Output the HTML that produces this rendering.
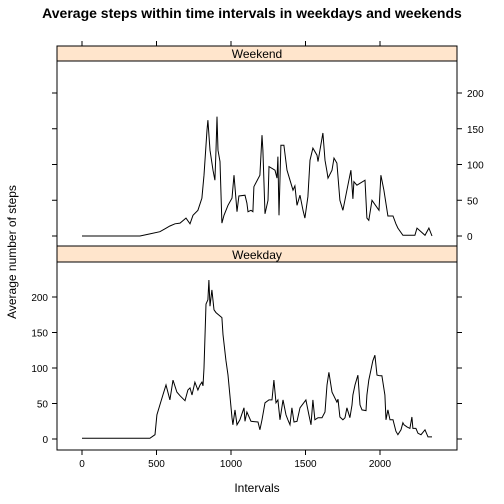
<!DOCTYPE html>
<html><head><meta charset="utf-8"><style>
body{margin:0;background:#fff;}
svg{display:block;font-family:"Liberation Sans",sans-serif;}
</style></head><body>
<svg id="c" width="504" height="504">
<text x="252" y="18" text-anchor="middle" font-size="14" font-weight="bold">Average steps within time intervals in weekdays and weekends</text>
<text transform="translate(16,252) rotate(-90)" text-anchor="middle" font-size="12">Average number of steps</text>
<text x="257" y="492" text-anchor="middle" font-size="12">Intervals</text>
</svg>
<script>
const xTicks=[0,500,1000,1500,2000];
const yTicks=[0,50,100,150,200];
const weekendX=[0,389,456,523,557,590,624,658,698,725,745,778,805,819,832,839,845,859,879,892,899,906,913,926,939,953,980,1007,1020,1040,1053,1094,1107,1114,1134,1147,1154,1194,1208,1214,1228,1248,1255,1295,1309,1315,1322,1335,1355,1376,1396,1416,1429,1443,1463,1483,1496,1516,1530,1550,1577,1584,1617,1631,1644,1651,1678,1691,1711,1731,1751,1778,1805,1818,1825,1845,1899,1912,1925,1946,1993,2006,2026,2053,2087,2107,2120,2154,2234,2248,2302,2328,2349];
const weekendY=[0,0,3,6,10,14,17,18,25,17,29,36,53,85,127,148,162,120,92,78,120,167,120,104,18,29,43,53,85,34,56,57,46,34,36,34,69,85,141,120,31,50,97,92,81,111,29,127,127,92,78,64,70,43,57,36,25,55,106,123,113,104,144,106,90,81,92,109,102,50,36,64,92,52,76,71,78,25,22,50,36,85,64,28,28,17,11,1,1,11,1,11,0];
const weekdayX=[0,456,490,503,523,543,564,590,611,637,658,691,711,725,738,758,778,792,805,812,819,832,845,852,859,872,886,899,939,946,966,980,1007,1013,1027,1040,1060,1087,1094,1107,1134,1181,1194,1208,1228,1255,1275,1288,1302,1315,1329,1349,1369,1382,1396,1409,1423,1443,1463,1503,1523,1537,1550,1563,1584,1611,1631,1644,1657,1678,1711,1718,1731,1751,1765,1778,1798,1812,1818,1832,1852,1866,1879,1906,1912,1925,1939,1952,1966,1980,2000,2013,2033,2040,2053,2067,2087,2107,2120,2141,2154,2161,2181,2201,2214,2221,2241,2255,2275,2302,2322,2349];
const weekdayY=[1,1,6,34,48,62,76,55,83,66,61,54,69,72,62,80,69,76,80,75,100,190,196,224,187,210,182,178,171,147,111,90,30,20,41,20,27,44,25,38,25,24,13,27,51,55,55,83,51,55,27,55,34,27,20,44,24,25,44,55,34,20,55,27,30,30,38,76,94,66,52,56,31,27,30,44,30,48,62,76,90,48,41,40,62,83,97,110,118,90,89,89,62,27,41,27,27,11,6,13,23,20,17,15,31,15,15,8,6,13,3,3];

const svg=document.getElementById('c');
const NS='http://www.w3.org/2000/svg';
function mk(tag,attrs){const e=document.createElementNS(NS,tag);for(const k in attrs)e.setAttribute(k,attrs[k]);svg.appendChild(e);return e;}
const X0=57,X1=457;
const xs=v=>82+v*0.149;
const panels=[
 {name:'weekend',label:'Weekend',sTop:46,pTop:61,pBot:246,zero:236,sc:0.715,xsA:weekendX,ysA:weekendY,labelRight:true,topTicks:true},
 {name:'weekday',label:'Weekday',sTop:246,pTop:262,pBot:450,zero:439,sc:0.71,xsA:weekdayX,ysA:weekdayY,labelRight:false,topTicks:false}
];
panels.forEach(p=>{
 const ys=v=>p.zero-v*p.sc;
 let r=mk('rect',{x:X0,y:p.sTop,width:X1-X0,height:p.pTop-p.sTop,fill:'#ffe5cc',stroke:'#000','stroke-width':1});
 
 
 let t=mk('text',{x:(X0+X1)/2,y:p.pTop-3,'text-anchor':'middle','font-size':12});
 t.textContent=p.label;
 
 
 let f=mk('rect',{x:X0,y:p.pTop,width:X1-X0,height:p.pBot-p.pTop,fill:'none',stroke:'#000','stroke-width':1});
 
 
 yTicks.forEach(v=>{
  const y=ys(v);
  mk('line',{x1:X0-5,x2:X0,y1:y,y2:y,stroke:'#000'});
  mk('line',{x1:X1,x2:X1+5,y1:y,y2:y,stroke:'#000'});
  const lt=mk('text',{x:p.labelRight?X1+10:X0-9,y:y+4,'text-anchor':p.labelRight?'start':'end','font-size':10});
  lt.textContent=v;
  
  
 });
 let d='';
 p.xsA.forEach((v,i)=>{d+=(i?'L':'M')+xs(v).toFixed(1)+','+ys(p.ysA[i]).toFixed(1);});
 const ln=mk('path',{d:d,fill:'none',stroke:'#000','stroke-width':1});
 
 
});
xTicks.forEach(v=>{
 const x=xs(v);
 mk('line',{x1:x,x2:x,y1:450,y2:455,stroke:'#000'});
 mk('line',{x1:x,x2:x,y1:41,y2:46,stroke:'#000'});
 const t=mk('text',{x:x,y:467,'text-anchor':'middle','font-size':10});
 t.textContent=v;
 
 
});
</script>
</body></html>
